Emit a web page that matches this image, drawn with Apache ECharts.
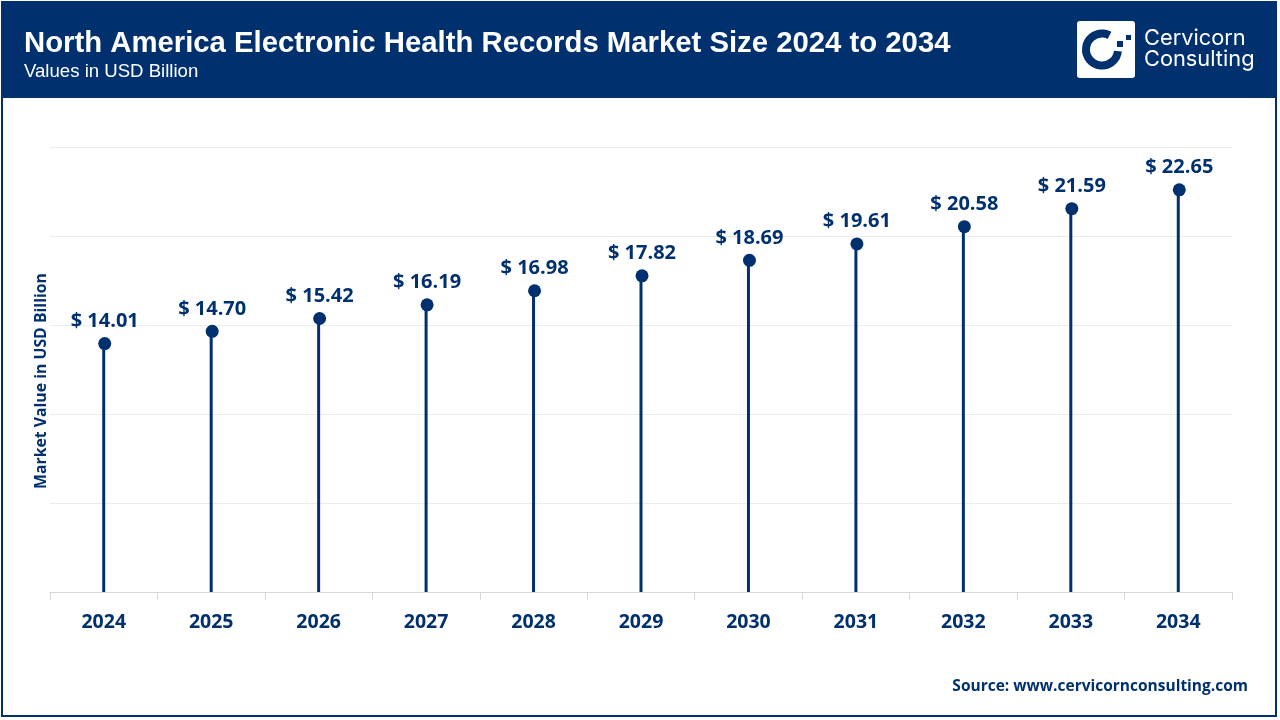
<!DOCTYPE html>
<html>
<head>
<meta charset="utf-8">
<style>
  html, body { margin: 0; padding: 0; background: #fff; }
  #chart { width: 1280px; height: 720px; }
</style>
<script src="https://cdn.jsdelivr.net/npm/echarts@6/dist/echarts.min.js"></script>
</head>
<body>
<div id="chart"></div>
<script>
const years = ['2024', '2025', '2026', '2027', '2028', '2029', '2030', '2031', '2032', '2033', '2034'];
const marketValues = [14.01, 14.70, 15.42, 16.19, 16.98, 17.82, 18.69, 19.61, 20.58, 21.59, 22.65];

const navy = '#00306e';
const labelFont = '"Open Sans", "Noto Sans", sans-serif';
const headFont = '"Liberation Sans", Arial, sans-serif';

const chart = echarts.init(document.getElementById('chart'));

chart.setOption({
  animation: false,
  backgroundColor: '#fff',
  grid: { left: 50, right: 48, top: 147, bottom: 128 },
  xAxis: {
    type: 'category',
    data: years,
    axisLine: { lineStyle: { color: '#d6d6d6', width: 1 } },
    axisTick: { show: true, length: 8, alignWithLabel: false, lineStyle: { color: '#d6d6d6' } },
    axisLabel: { color: navy, fontFamily: labelFont, fontWeight: 700, fontSize: 19.5, margin: 20 }
  },
  yAxis: {
    type: 'value',
    min: 0,
    max: 25,
    interval: 5,
    axisLine: { show: false },
    axisTick: { show: false },
    axisLabel: { show: false },
    splitLine: { lineStyle: { color: '#ececec', width: 1 } }
  },
  series: [
    {
      type: 'bar',
      data: marketValues,
      barWidth: 3,
      itemStyle: { color: navy },
      silent: true
    },
    {
      type: 'scatter',
      data: marketValues,
      symbol: 'circle',
      symbolSize: 13,
      symbolOffset: [1, 1],
      itemStyle: { color: navy, opacity: 1 },
      label: {
        show: true,
        position: 'top',
        distance: 6,
        color: navy,
        fontFamily: labelFont,
        fontWeight: 700,
        fontSize: 20,
        formatter: p => '$ ' + p.value.toFixed(2)
      }
    }
  ],
  graphic: [
    // header band
    { type: 'rect', z: 0, shape: { x: 1, y: 1, width: 1276, height: 97 }, style: { fill: navy } },
    // outer frame
    { type: 'rect', z: 0, shape: { x: 2, y: 2, width: 1274, height: 714 }, style: { fill: 'none', stroke: navy, lineWidth: 2 } },
    { type: 'text', z: 2, style: { x: 24, y: 29, text: 'North America Electronic Health Records Market Size 2024 to 2034', fill: '#fff', font: 'bold 29.3px ' + headFont } },
    { type: 'text', z: 2, style: { x: 24, y: 62, text: 'Values in USD Billion', fill: '#fff', font: '18.6px ' + headFont } },
    // logo
    { type: 'rect', z: 2, shape: { x: 1077, y: 21, width: 58, height: 57, r: 3 }, style: { fill: '#fff' } },
    { type: 'arc', z: 3, shape: { cx: 1102, cy: 49.5, r: 16, startAngle: 0.1, endAngle: 5.2, clockwise: true }, style: { fill: 'none', stroke: navy, lineWidth: 8 } },
    { type: 'rect', z: 3, shape: { x: 1117, y: 41, width: 6, height: 6 }, style: { fill: navy } },
    { type: 'rect', z: 3, shape: { x: 1126, y: 35, width: 5, height: 5 }, style: { fill: navy } },
    { type: 'text', z: 3, style: { x: 1144, y: 27, text: 'Cervicorn', fill: '#fff', font: '21.8px Inter, sans-serif' } },
    { type: 'text', z: 3, style: { x: 1144, y: 48, text: 'Consulting', fill: '#fff', font: '21.8px Inter, sans-serif' } },
    // axis title
    { type: 'text', z: 2, rotation: Math.PI / 2, x: 41, y: 381, style: { x: 0, y: 0, text: 'Market Value in USD Billion', align: 'center', verticalAlign: 'middle', fill: navy, font: 'bold 15.8px ' + labelFont } },
    // source
    { type: 'text', z: 2, style: { x: 1248, y: 679, text: 'Source: www.cervicornconsulting.com', align: 'right', fill: navy, font: 'bold 15.5px ' + labelFont } }
  ]
});
</script>
</body>
</html>
